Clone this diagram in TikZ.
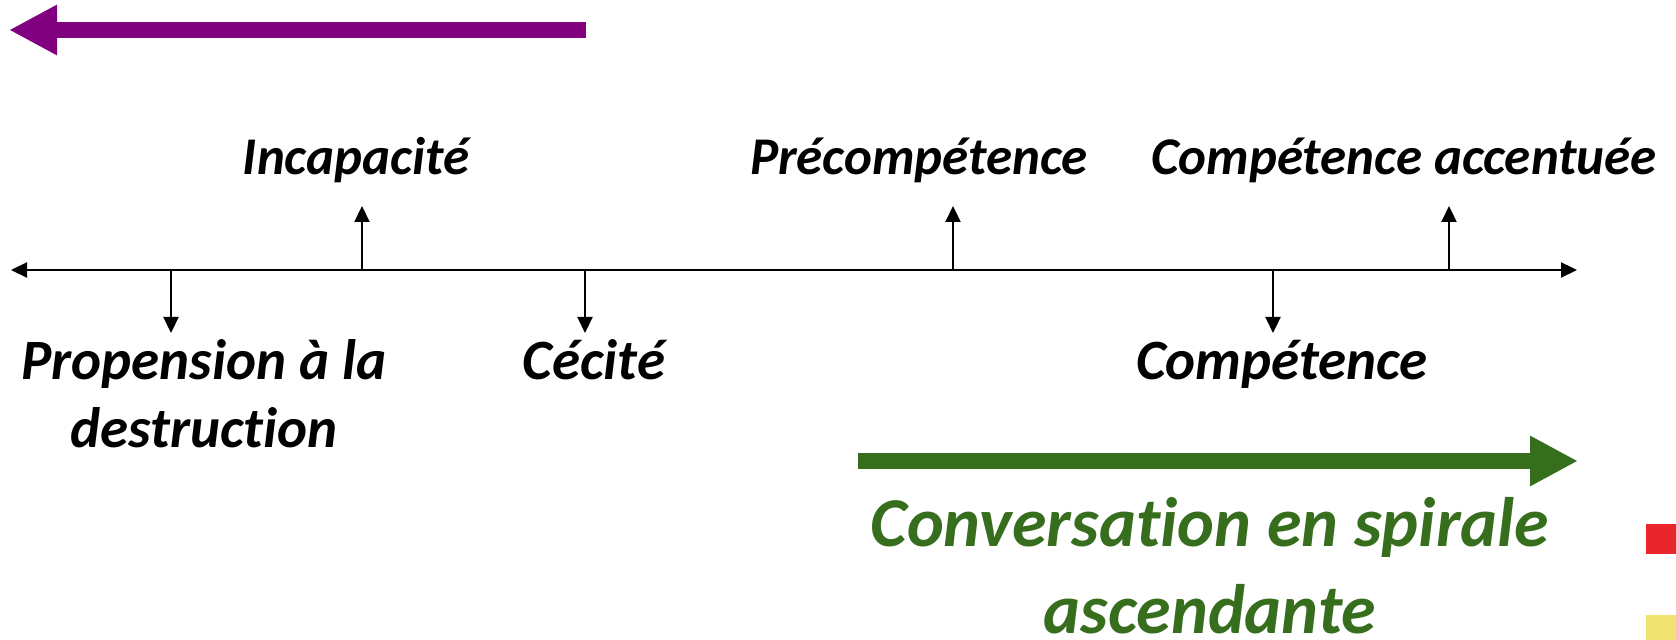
\documentclass[tikz,border=0pt]{standalone}
\usepackage{fontspec}
\setmainfont{Carlito}[Ligatures=NoCommon]
\usepackage{xcolor}
\usetikzlibrary{arrows.meta}

\definecolor{purp}{RGB}{128,0,128}
\definecolor{grn}{RGB}{55,110,30}
\definecolor{rd}{RGB}{232,38,44}
\definecolor{yl}{RGB}{240,228,112}

\begin{document}
\begin{tikzpicture}[x=0.5pt,y=-0.5pt,
  lbl/.style={font=\fontsize{26.5}{32}\selectfont\bfseries\itshape,anchor=base,align=center,inner sep=0pt},
  lbldown/.style={lbl,font=\fontsize{28.5}{34}\selectfont\bfseries\itshape},
  glbl/.style={font=\fontsize{35}{43.5}\selectfont\bfseries\itshape,text=grn,anchor=base,align=center,inner sep=0pt},
  tip/.style={-{Triangle[length=8pt,width=7.5pt]},line width=1.1pt},
  big/.style={-{Triangle[length=24pt,width=23.5pt]},line width=8.25pt}]
\useasboundingbox (0,0) rectangle (1676,640);

% big arrows
\coordinate (p1) at (586,30);
\coordinate (p2) at (9,30);
\draw[big,purp] (p1) -- (p2);

\coordinate (g1) at (858,461);
\coordinate (g2) at (1578,461);
\draw[big,grn] (g1) -- (g2);

% axis
\coordinate (l) at (11,270);
\coordinate (r) at (1577,270);
\draw[{Triangle[length=8pt,width=7.5pt]}-{Triangle[length=8pt,width=7.5pt]},line width=1.1pt] (l) -- (r);

\coordinate (1a) at (171,270);  \coordinate (1b) at (171,333);
\coordinate (2a) at (362,270);  \coordinate (2b) at (362,206);
\coordinate (3a) at (585,270);  \coordinate (3b) at (585,333);
\coordinate (4a) at (953,270);  \coordinate (4b) at (953,206);
\coordinate (5a) at (1273,270); \coordinate (5b) at (1273,333);
\coordinate (6a) at (1449,270); \coordinate (6b) at (1449,206);

\draw[tip] (1a) -- (1b);
\draw[tip] (2a) -- (2b);
\draw[tip] (3a) -- (3b);
\draw[tip] (4a) -- (4b);
\draw[tip] (5a) -- (5b);
\draw[tip] (6a) -- (6b);

% labels
\node[lbldown] (1) at (204,448) {Propension à la\\destruction};
\node[lbl] (2) at (356,175) {Incapacité};
\node[lbldown] (3) at (594,380) {Cécité};
\node[lbl] (4) at (919,175) {Précompétence};
\node[lbldown] (5) at (1282,380) {Compétence};
\node[lbl] (6) at (1404,175) {Compétence accentuée};

\node[glbl] (7) at (1210,633) {Conversation en spirale\\ascendante};

% legend squares
\fill[rd] (1646,524) rectangle (1676,554);
\fill[yl] (1646,615) rectangle (1676,640);
\end{tikzpicture}
\end{document}
